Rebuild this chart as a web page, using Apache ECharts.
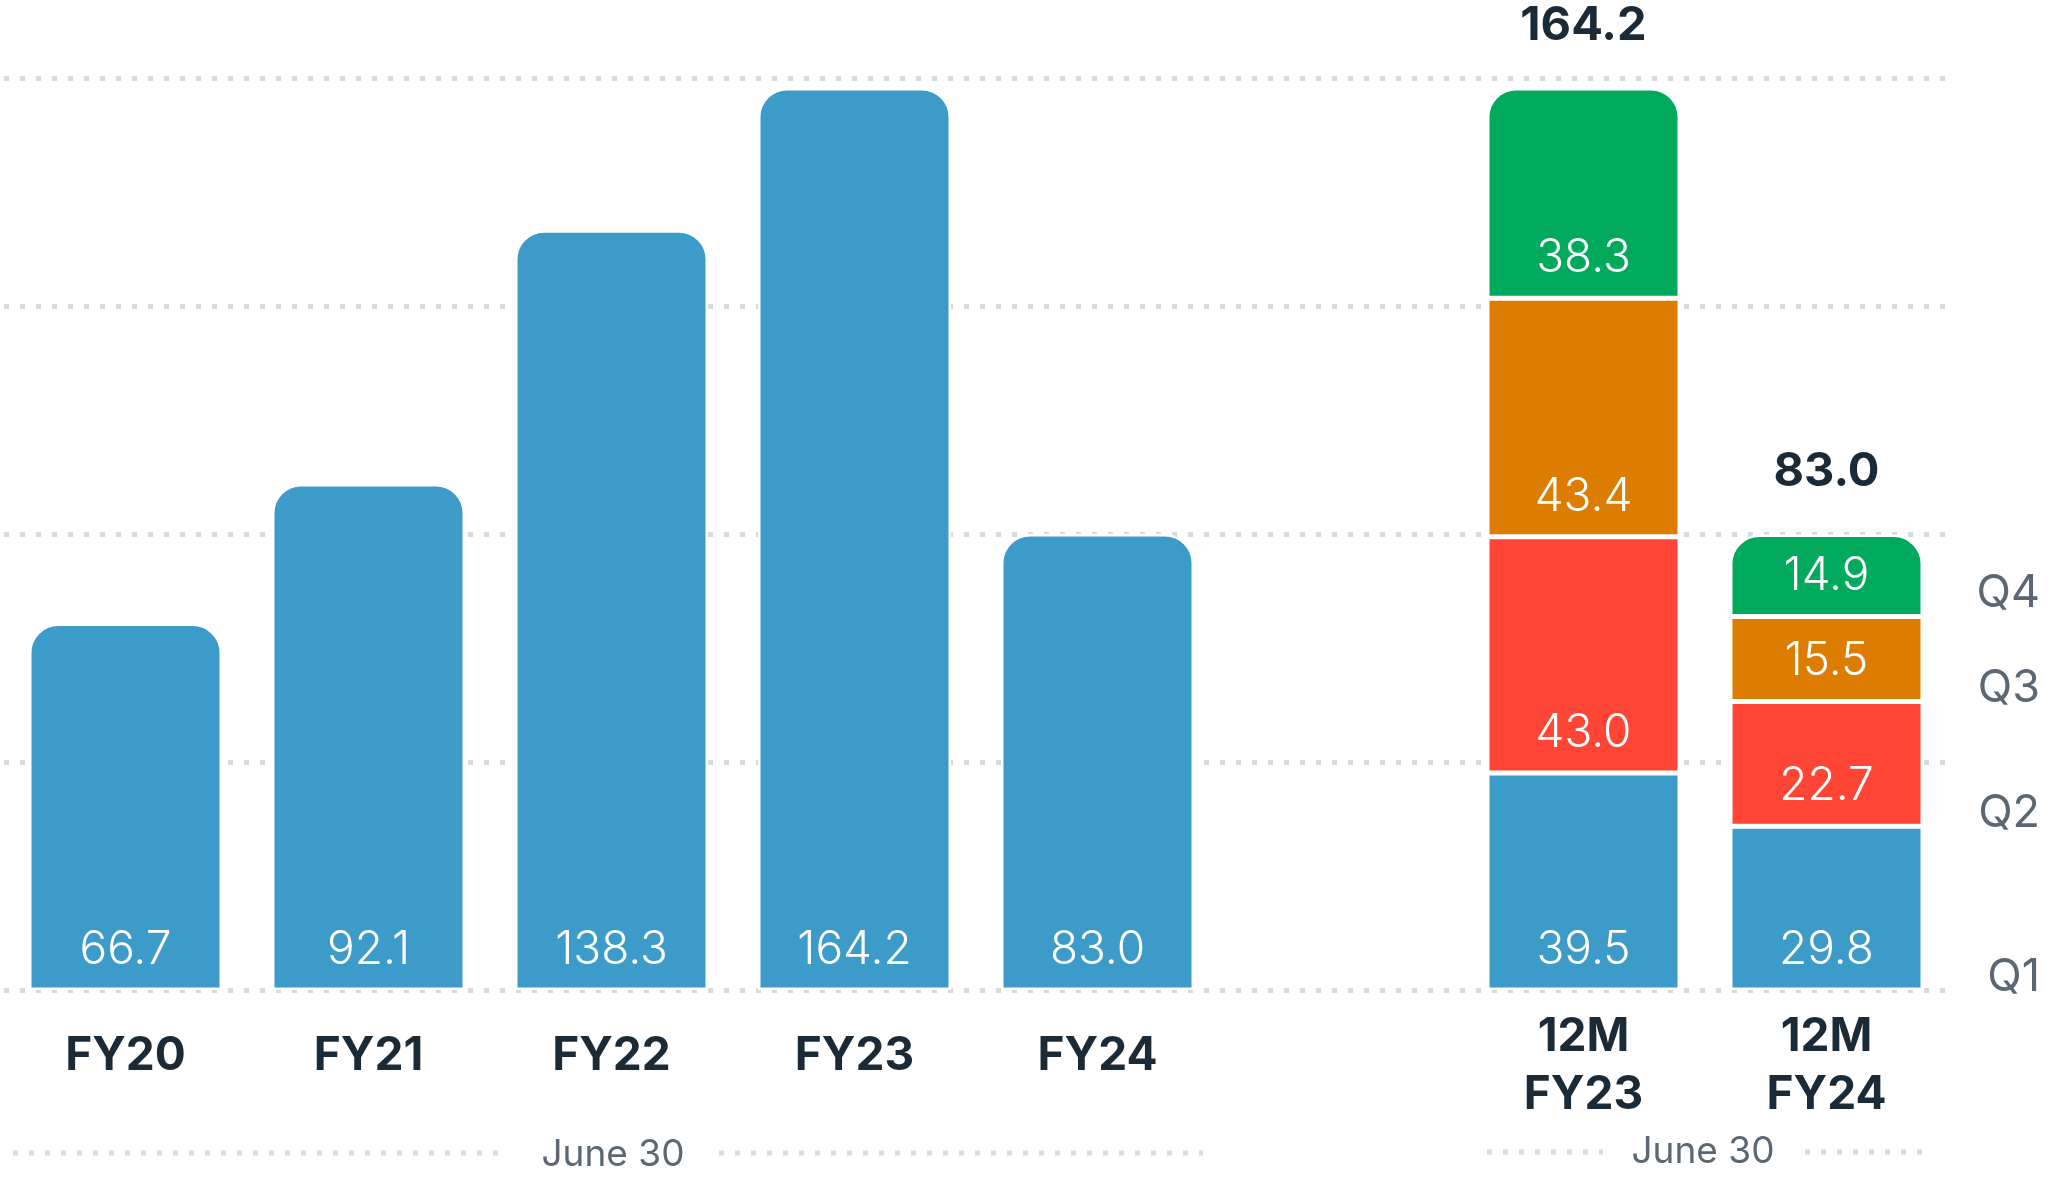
<!DOCTYPE html>
<html>
<head>
<meta charset="utf-8">
<script src="https://cdn.jsdelivr.net/npm/echarts@6/dist/echarts.min.js"></script>
<style>
  html, body { margin: 0; padding: 0; background: #fff; }
  #main { width: 2054px; height: 1178px; }
</style>
</head>
<body>
<div id="main"></div>
<script>
// categories (an empty slot separates the two groups)
const categories = ["FY20", "FY21", "FY22", "FY23", "FY24", "", "12M\nFY23", "12M\nFY24"];
const annual = [66.7, 92.1, 138.3, 164.2, 83.0, "-", "-", "-"];
const q1 = ["-", "-", "-", "-", "-", "-", 39.5, 29.8];
const q2 = ["-", "-", "-", "-", "-", "-", 43.0, 22.7];
const q3 = ["-", "-", "-", "-", "-", "-", 43.4, 15.5];
const q4 = ["-", "-", "-", "-", "-", "-", 38.3, 14.9];
const totals = ["-", "-", "-", "-", "-", "-", 164.2, 83.0];
const quarterNames = ["Q4", "Q3", "Q2", "Q1"];
const footnote = "June 30";

const FONT = "Inter, 'Noto Sans', sans-serif";
const DARK = "#1a2b37";
const GREY = "#5b6874";
const DOTS = "#d8dadd";

let myChart = echarts.init(document.getElementById("main"));

// white value label sitting near the bottom of each bar / segment
const innerLabel = {
  show: true,
  position: "insideBottom",
  distance: 17,
  color: "#fff",
  fontFamily: FONT,
  fontSize: 46,
  fontWeight: 300,
  lineHeight: 46,
  formatter: p => Number(p.value).toFixed(1)
};

function barSeries(name, data, color, radius) {
  return {
    name: name,
    type: "bar",
    stack: "all",
    data: data,
    barWidth: 193,
    itemStyle: {
      color: color,
      borderColor: "#fff",
      borderWidth: 2.5,
      borderRadius: radius ? [28, 28, 0, 0] : 0
    },
    label: innerLabel
  };
}

function dotted(x1, x2, y) {
  return {
    type: "line",
    shape: { x1: x1, y1: y, x2: x2, y2: y },
    style: { stroke: DOTS, lineWidth: 5, lineDash: [5, 11] }
  };
}

function note(x, y) {
  return {
    type: "text",
    x: x,
    y: y,
    style: {
      text: footnote,
      fill: GREY,
      font: "37px " + FONT,
      align: "center",
      verticalAlign: "middle"
    }
  };
}

const qY = [593, 688, 813, 977];
const quarterTexts = quarterNames.map((q, i) => ({
  type: "text",
  x: 2040,
  y: qY[i],
  style: {
    text: q,
    fill: GREY,
    font: "45px " + FONT,
    align: "right",
    verticalAlign: "middle"
  }
}));

let option = {
  animation: false,
  grid: { left: 4, right: 106, top: 78, bottom: 188 },
  xAxis: {
    type: "category",
    data: categories,
    axisLine: { show: false },
    axisTick: { show: false },
    axisLabel: {
      margin: 76,
      verticalAlign: "middle",
      interval: 0,
      formatter: v => {
        if (v.indexOf("\n") < 0) return "{s|" + v + "}";
        return v.split("\n").map(l => "{m|" + l + "}").join("\n");
      },
      rich: {
        s: { fontFamily: FONT, fontSize: 46, fontWeight: "bold", color: DARK, lineHeight: 58, padding: [0, 0, 20, 0] },
        m: { fontFamily: FONT, fontSize: 46, fontWeight: "bold", color: DARK, lineHeight: 58 }
      }
    }
  },
  yAxis: {
    type: "value",
    min: 0,
    max: 166,
    interval: 41.5,
    axisLabel: { show: false },
    axisLine: { show: false },
    axisTick: { show: false },
    splitLine: { lineStyle: { color: DOTS, width: 5, type: [5, 11] } }
  },
  series: [
    barSeries("FY", annual, "#3d9bc9", true),
    barSeries("Q1", q1, "#3d9bc9", false),
    barSeries("Q2", q2, "#ff4535", false),
    barSeries("Q3", q3, "#dc7c00", false),
    barSeries("Q4", q4, "#00a95c", true),
    {
      name: "Total",
      type: "scatter",
      data: totals,
      symbolSize: 1,
      itemStyle: { color: "rgba(0,0,0,0)", opacity: 1 },
      label: {
        show: true,
        position: "top",
        distance: 38,
        color: DARK,
        opacity: 1,
        fontFamily: FONT,
        fontSize: 47,
        fontWeight: "bold",
        lineHeight: 47,
        formatter: p => Number(p.value).toFixed(1)
      }
    }
  ],
  graphic: [
    dotted(13, 502, 1153),
    dotted(719, 1203, 1153),
    note(613, 1155),
    dotted(1487, 1603, 1152),
    dotted(1805, 1922, 1152),
    note(1703, 1152)
  ].concat(quarterTexts)
};

myChart.setOption(option);
</script>
</body>
</html>
